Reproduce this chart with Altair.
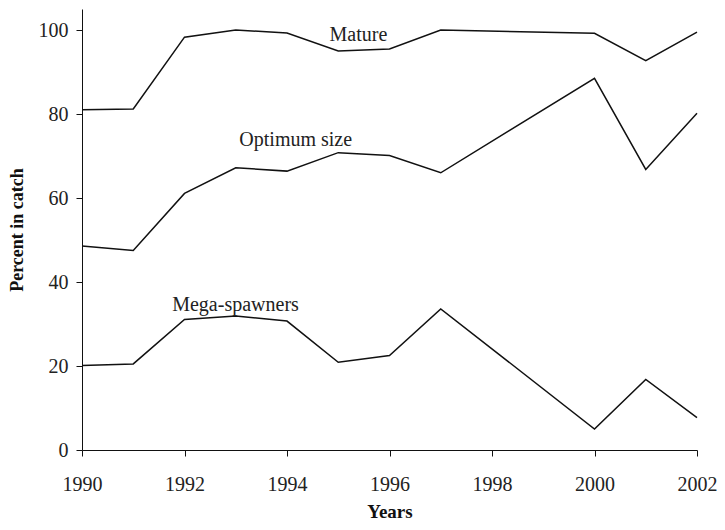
import altair as alt
import pandas as pd

years = [1990, 1991, 1992, 1993, 1994, 1995, 1996, 1997, 2000, 2001, 2002]
mature = [81.0, 81.2, 98.3, 100.0, 99.3, 95.0, 95.5, 100.0, 99.2, 92.7, 99.5]
optimum = [48.6, 47.5, 61.1, 67.2, 66.4, 70.8, 70.1, 66.0, 88.5, 66.8, 80.2]
mega = [20.1, 20.5, 31.1, 31.9, 30.7, 20.9, 22.5, 33.6, 5.0, 16.8, 7.7]

series_names = ["Mature", "Optimum size", "Mega-spawners"]
label_x = [1994.83, 1993.07, 1991.76]
label_y = [97.5, 72.3, 33.2]

x_ticks = [1990, 1992, 1994, 1996, 1998, 2000, 2002]
y_ticks = [0, 20, 40, 60, 80, 100]

rows = []
for name, vals in zip(series_names, [mature, optimum, mega]):
    for yr, v in zip(years, vals):
        rows.append({"Year": yr, "Percent": v, "Series": name})
df = pd.DataFrame(rows)
labels = pd.DataFrame({"Year": label_x, "Percent": label_y, "Series": series_names})

FONT = "Liberation Serif"

x_enc = alt.X(
    "Year:Q",
    scale=alt.Scale(domain=[1990, 2002], nice=False, zero=False),
    axis=alt.Axis(
        values=x_ticks, format="d", title="Years", grid=False,
        domainColor="#111", tickColor="#111", tickSize=6,
        labelFont=FONT, labelFontSize=20, labelColor="#222", labelPadding=18,
        labelFlush=False, labelOverlap=False,
        titleFont=FONT, titleFontSize=19, titleFontWeight="bold", titleColor="#111",
        titlePadding=8,
    ),
)
y_enc = alt.Y(
    "Percent:Q",
    scale=alt.Scale(domain=[0, 105], nice=False),
    axis=alt.Axis(
        values=y_ticks, title="Percent in catch", grid=False,
        domainColor="#111", tickColor="#111", tickSize=6,
        labelFont=FONT, labelFontSize=20, labelColor="#222", labelPadding=8,
        titleFont=FONT, titleFontSize=18, titleFontWeight="bold", titleColor="#111",
        titlePadding=12,
    ),
)

lines = alt.Chart(df).mark_line(color="#111", strokeWidth=1.5).encode(
    x=x_enc, y=y_enc, detail="Series:N"
)
text = alt.Chart(labels).mark_text(
    align="left", baseline="alphabetic", font=FONT, fontSize=20, color="#222"
).encode(x="Year:Q", y="Percent:Q", text="Series:N")

chart = (
    alt.layer(lines, text)
    .properties(
        width=615, height=441,
        autosize=alt.AutoSizeParams(type="none"),
        padding={"left": 74, "top": 1, "right": 20, "bottom": 72},
    )
    .configure_view(stroke=None)
)

chart.save("out.html", embed_options={"renderer": "svg", "actions": False})
